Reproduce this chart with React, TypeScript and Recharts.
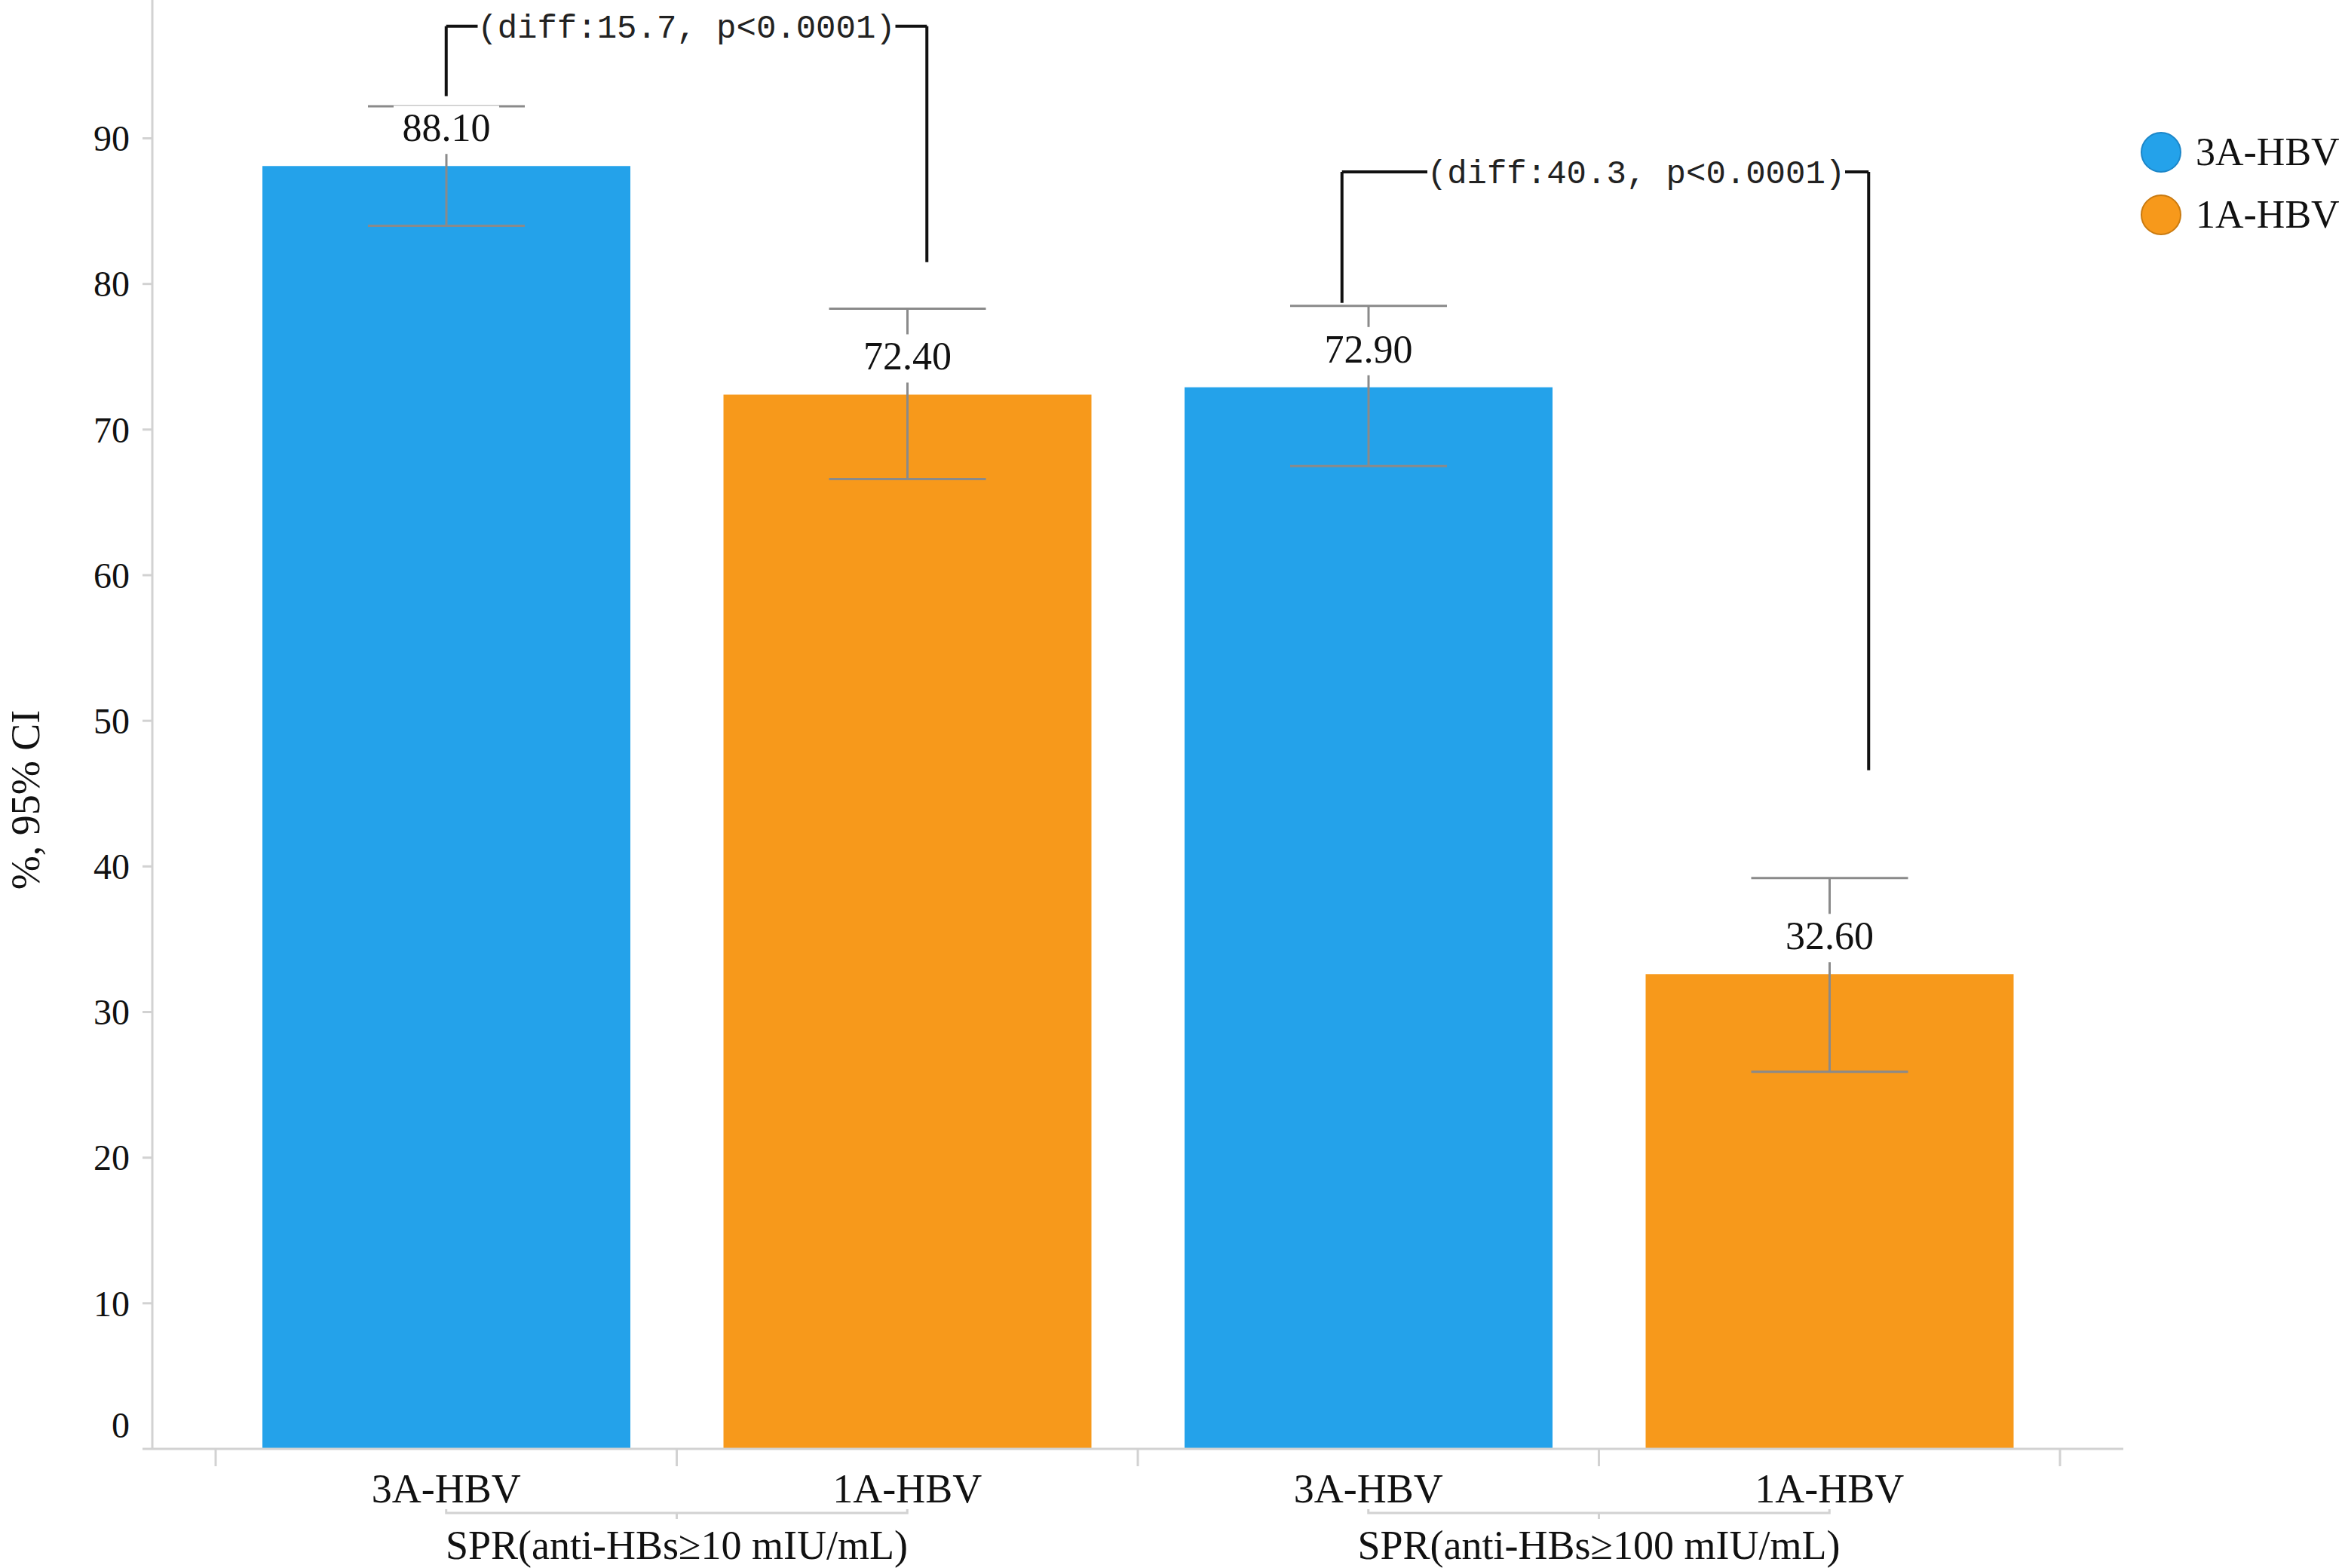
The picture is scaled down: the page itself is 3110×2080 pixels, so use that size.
import { Bar, BarChart, Cell, ErrorBar, LabelList, Legend, ReferenceLine, XAxis, YAxis } from 'recharts';

const categories = ['3A-HBV', '1A-HBV', '3A-HBV', '1A-HBV'];
const groupLabels = ['SPR(anti-HBs≥10 mIU/mL)', 'SPR(anti-HBs≥100 mIU/mL)'];
const rates = [88.1, 72.4, 72.9, 32.6];
const ciLower = [84.0, 66.6, 67.5, 25.9];
const ciUpper = [92.2, 78.3, 78.5, 39.2];
const seriesNames = ['3A-HBV', '1A-HBV'];
const yTicks = [0, 10, 20, 30, 40, 50, 60, 70, 80, 90];

// significance brackets
const diffLabels = ['(diff:15.7, p<0.0001)', '(diff:40.3, p<0.0001)'];
const diffPairs = [[0, 1], [2, 3]];
const diffTop = [97.7, 87.7];
const diffLeftEnd = [92.9, 78.7];
const diffRightEnd = [81.5, 46.6];

// styling
const COLORS = ['#24A2EA', '#F7991B'];
const BORDERS = ['#1C86C8', '#C97A10'];
const SERIF = "'Liberation Serif', 'Times New Roman', serif";
const MONO = "'Liberation Mono', 'Courier New', monospace";
const AXIS_GRAY = '#d2d2d2';
const W = 3110;
const H = 2080;
const Y_AXIS_W = 202;
const RIGHT = 294;
const X_AXIS_H = 158;
const PAD = 84;
const BAND = (W - Y_AXIS_W - RIGHT - PAD * 2) / categories.length;
const LEG_DX = [[0, 26], [-35, 52]];
const TEXT_DX = [0, 41];

const rows = categories.map((name, i) => ({
  key: `c${i}`,
  name,
  rate: rates[i],
  err: [rates[i] - ciLower[i], ciUpper[i] - rates[i]],
  color: COLORS[i % 2],
}));

function YTick(p: any) {
  const v = p.payload.value;
  return (
    <text x={p.x} y={p.y + (v === 0 ? -32 : 0)} dy="0.35em" textAnchor="end" fontFamily={SERIF} fontSize={48} fill="#111">
      {v}
    </text>
  );
}

function XTick(p: any) {
  const { x, y } = p;
  const i = rows.findIndex((r) => r.key === p.payload.value);
  const half = BAND / 2;
  return (
    <g>
      <line x1={x - half} x2={x - half} y1={y} y2={y + 23} stroke={AXIS_GRAY} strokeWidth={3} />
      {i === rows.length - 1 && <line x1={x + half} x2={x + half} y1={y} y2={y + 23} stroke={AXIS_GRAY} strokeWidth={3} />}
      <text x={x} y={y + 71} textAnchor="middle" fontFamily={SERIF} fontSize={54} fill="#111">
        {categories[i]}
      </text>
      {i % 2 === 0 && (
        <g>
          <path
            d={`M${x},${y + 80} V${y + 85} H${x + BAND} V${y + 80} M${x + half},${y + 85} V${y + 93}`}
            stroke={AXIS_GRAY}
            strokeWidth={3}
            fill="none"
          />
          <text x={x + half} y={y + 146} textAnchor="middle" fontFamily={SERIF} fontSize={54} fill="#111">
            {groupLabels[i / 2]}
          </text>
        </g>
      )}
    </g>
  );
}

function ValueLabel(p: any) {
  const cx = p.x + p.width / 2;
  const base = p.y - 33;
  return (
    <g>
      <rect x={cx - 70} y={base - 47} width={140} height={64} fill="#fff" />
      <text x={cx} y={base} textAnchor="middle" fontFamily={SERIF} fontSize={52} fill="#111">
        {Number(p.value).toFixed(2)}
      </text>
    </g>
  );
}

function YLabel(p: any) {
  const vb = p.viewBox;
  const cy = vb.y + vb.height / 2 + 100;
  return (
    <text transform={`translate(52, ${cy}) rotate(-90)`} textAnchor="middle" fontFamily={SERIF} fontSize={54} fill="#111">
      %, 95% CI
    </text>
  );
}

function LegendBox() {
  return (
    <div style={{ fontFamily: SERIF, fontSize: 52, color: '#111' }}>
      {seriesNames.map((s, i) => (
        <div key={s} style={{ display: 'flex', alignItems: 'center', height: 83 }}>
          <svg width={56} height={56} style={{ marginRight: 18 }}>
            <circle cx={28} cy={28} r={26} fill={COLORS[i]} stroke={BORDERS[i]} strokeWidth={2} />
          </svg>
          <span>{s}</span>
        </div>
      ))}
    </div>
  );
}

function bracketTop(i: number) {
  return (p: any) => {
    const x1 = p.x1 + LEG_DX[i][0];
    const x2 = p.x2 + LEG_DX[i][1];
    const cx = (x1 + x2) / 2 + TEXT_DX[i];
    return (
      <g>
        <line x1={x1} x2={x2} y1={p.y1} y2={p.y1} stroke="#111" strokeWidth={4} />
        <rect x={cx - 277} y={p.y1 - 26} width={554} height={52} fill="#fff" />
        <text x={cx} y={p.y1} dy="0.35em" textAnchor="middle" fontFamily={MONO} fontSize={44} fill="#222">
          {diffLabels[i]}
        </text>
      </g>
    );
  };
}

function bracketLeg(dx: number) {
  return (p: any) => <line x1={p.x1 + dx} x2={p.x2 + dx} y1={p.y1} y2={p.y2} stroke="#111" strokeWidth={4} />;
}

export default function App() {
  return (
    <div style={{ position: 'absolute', left: 0, top: 0, width: W, height: H, background: '#fff' }}>
      <BarChart width={W} height={H} data={rows} margin={{ top: 0, right: RIGHT, bottom: 0, left: 0 }}>
        <XAxis
          dataKey="key"
          height={X_AXIS_H}
          padding={{ left: PAD, right: PAD }}
          axisLine={{ stroke: AXIS_GRAY, strokeWidth: 3 }}
          tickLine={false}
          tickSize={0}
          tickMargin={0}
          interval={0}
          tick={<XTick />}
        />
        <YAxis
          width={Y_AXIS_W}
          domain={[0, 99.5]}
          ticks={yTicks}
          interval={0}
          axisLine={{ stroke: AXIS_GRAY, strokeWidth: 3 }}
          tickLine={{ stroke: AXIS_GRAY, strokeWidth: 3 }}
          tickSize={13}
          tickMargin={17}
          tick={<YTick />}
          label={<YLabel />}
        />
        <Legend
          layout="vertical"
          align="center"
          verticalAlign="middle"
          wrapperStyle={{ left: 2838, top: 160, width: 272 }}
          content={<LegendBox />}
        />
        <Bar dataKey="rate" barSize={488} isAnimationActive={false}>
          {rows.map((r) => (
            <Cell key={r.key} fill={r.color} />
          ))}
          <ErrorBar dataKey="err" width={104} stroke="#8a8a8a" strokeWidth={3} direction="y" />
          <LabelList dataKey="rate" content={<ValueLabel />} />
        </Bar>
        {diffPairs.map(([a, b], i) => (
          <ReferenceLine
            key={`top${i}`}
            segment={[{ x: rows[a].key, y: diffTop[i] }, { x: rows[b].key, y: diffTop[i] }]}
            shape={bracketTop(i)}
          />
        ))}
        {diffPairs.map(([a], i) => (
          <ReferenceLine
            key={`l${i}`}
            segment={[{ x: rows[a].key, y: diffTop[i] }, { x: rows[a].key, y: diffLeftEnd[i] }]}
            shape={bracketLeg(LEG_DX[i][0])}
          />
        ))}
        {diffPairs.map(([, b], i) => (
          <ReferenceLine
            key={`r${i}`}
            segment={[{ x: rows[b].key, y: diffTop[i] }, { x: rows[b].key, y: diffRightEnd[i] }]}
            shape={bracketLeg(LEG_DX[i][1])}
          />
        ))}
      </BarChart>
    </div>
  );
}
